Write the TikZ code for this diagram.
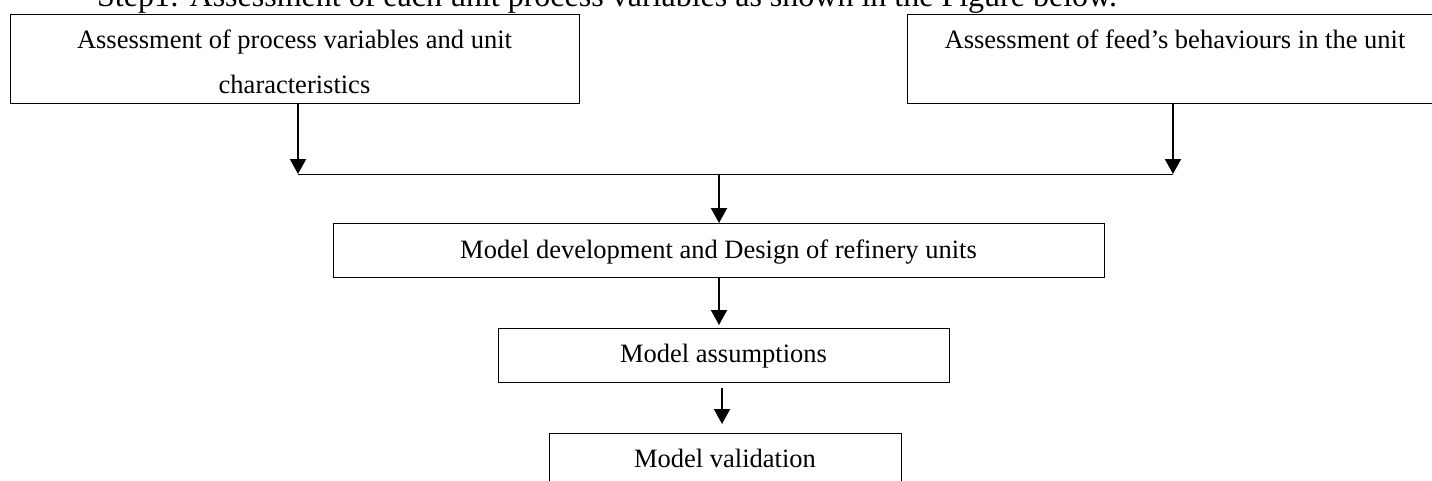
\documentclass[tikz,border=0pt]{standalone}
\usepackage{fontspec}
\setmainfont{Liberation Serif}
\usetikzlibrary{arrows.meta}
\begin{document}
\begin{tikzpicture}[x=1pt,y=-1pt,
  stagebox/.style={draw=black, line width=1pt, rectangle, inner sep=0pt, anchor=north west},
  lbl/.style={anchor=base, inner sep=0pt, font=\fontsize{26.5}{30}\selectfont},
  headline/.style={anchor=base west, inner sep=0pt, font=\fontsize{32}{36}\selectfont},
  flow/.style={line width=2pt, -{Triangle[width=16pt,length=15pt]}},
  link/.style={line width=1pt}]
\useasboundingbox (0,0) rectangle (1432,480);
\clip (0,0) rectangle (1432,480);

% heading line above the chart
\node[headline] (title) at (97,6) {Step1: Assessment of each unit process variables as shown in the Figure below.};

% stage boxes
\node[stagebox, minimum width=569pt, minimum height=89pt] (b1) at (10,14) {};
\node[stagebox, minimum width=536pt, minimum height=89pt] (b2) at (907,14) {};
\node[stagebox, minimum width=771pt, minimum height=54pt] (b3) at (333,223) {};
\node[stagebox, minimum width=451pt, minimum height=54pt] (b4) at (498,328) {};
\node[stagebox, minimum width=352pt, minimum height=70pt] (b5) at (549,433) {};

% box texts
\node[lbl] (t1a) at (294.5,48) {Assessment of process variables and unit};
\node[lbl] (t1b) at (294.5,93) {characteristics};
\node[lbl] (t2) at (1175,48) {Assessment of feed’s behaviours in the unit};
\node[lbl] (t3) at (718.5,258) {Model development and Design of refinery units};
\node[lbl] (t4) at (723.5,362) {Model assumptions};
\node[lbl] (t5) at (725,467) {Model validation};

% junction points on the collecting line
\coordinate (jl) at (298,174);
\coordinate (jr) at (1173,174);
\coordinate (jm) at (719,174);
\coordinate (x4) at (719,0);
\coordinate (x5) at (722,0);

% connectors
\draw[flow] (jl |- b1.south) -- (jl);
\draw[flow] (jr |- b2.south) -- (jr);
\draw[link] (jl) -- (jr);
\draw[flow] (jm) -- (jm |- b3.north);
\draw[flow, shorten >=3pt] (x4 |- b3.south) -- (x4 |- b4.north);
\draw[flow, shorten <=5pt, shorten >=9pt] (x5 |- b4.south) -- (x5 |- b5.north);
\end{tikzpicture}
\end{document}
